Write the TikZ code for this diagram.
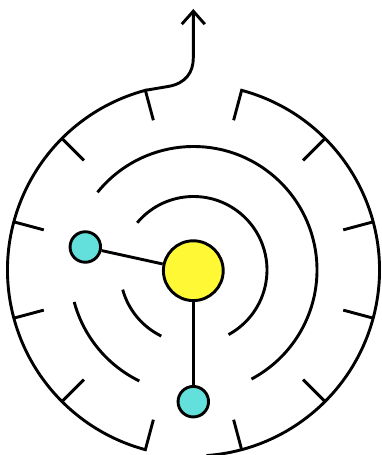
\documentclass[tikz,border=0pt]{standalone}
\usetikzlibrary{arrows.meta,calc}
\definecolor{sunyellow}{HTML}{FFF935}
\definecolor{cyanball}{HTML}{64E0DC}
\begin{document}
\begin{tikzpicture}[x=1pt,y=1pt,
  wall/.style={draw=black, line width=2.9pt},
  link/.style={draw=black, line width=2.9pt},
  hubnode/.style={circle, draw=black, line width=2.9pt, fill=sunyellow, minimum size=59.8pt, inner sep=0pt},
  ballnode/.style={circle, draw=black, line width=2.9pt, fill=cyanball, minimum size=30.5pt, inner sep=0pt}]
\useasboundingbox (0,0) rectangle (381,455);
\clip (0,0) rectangle (381,455);
\coordinate (O) at (193.5,185);
% outer wall
\draw[wall] ($(O)+(105:155)$) -- ($(O)+(105:186)$) arc[start angle=105,end angle=255,radius=186] -- ($(O)+(255:155)$);
\draw[wall] ($(O)+(75:155)$) -- ($(O)+(75:186)$) arc[start angle=75,end angle=-86,radius=186];
\foreach \a in {15,45,135,165,195,225,285,315,345}
  \draw[wall] ($(O)+(\a:186)$) -- ($(O)+(\a:155)$);
% middle walls
\draw[wall] ($(O)+(141:123.5)$) arc[start angle=141,end angle=-62,radius=123.5];
\draw[wall] ($(O)+(195:123.5)$) arc[start angle=195,end angle=244,radius=123.5];
% inner walls
\draw[wall] ($(O)+(140:73.5)$) arc[start angle=140,end angle=-61.5,radius=73.5];
\draw[wall] ($(O)+(195.5:73.5)$) arc[start angle=195.5,end angle=244,radius=73.5];
% exit arrow
\coordinate (start) at ($(O)+(105:186)$);
\coordinate (exit) at (193.3,446);
\draw[link,-{Straight Barb[length=13pt,width=23pt]}] (start) -- (168,368.5) .. controls (186,371.5) and (193.3,383) .. (193.3,397) -- (exit);
% nodes
\node[hubnode] (hub) at (193.3,184.3) {};
\node[ballnode] (left) at (85.3,208) {};
\node[ballnode] (bottom) at (193.3,53.3) {};
\draw[link] (left) -- (hub);
\draw[link] (hub) -- (bottom);
\end{tikzpicture}
\end{document}
